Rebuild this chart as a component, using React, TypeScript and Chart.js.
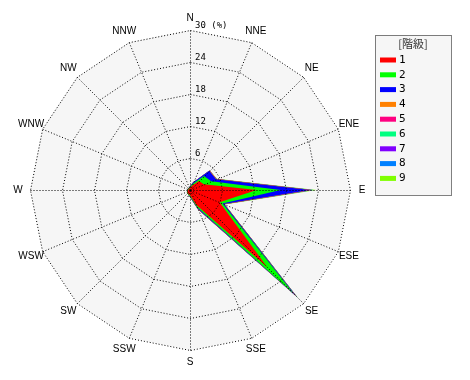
import { useEffect, useRef } from "react";
import { Chart, registerables } from "chart.js";

Chart.register(...registerables);

const directions = ["N", "NNE", "NE", "ENE", "E", "ESE", "SE", "SSE", "S", "SSW", "SW", "WSW", "W", "WNW", "NW", "NNW"];
const levelNames = ["1", "2", "3", "4", "5", "6", "7", "8", "9"];
const levelColors = ["#ff0000", "#00ff00", "#0000ff", "#ff8000", "#ff0080", "#00ff80", "#8000ff", "#0080ff", "#80ff00"];
const tickValues = [6, 12, 18, 24, 30];
const legendTitle = "[階級]";
const unitLabel = "(%)";

// frequency (%) per level, per direction (N, NNE, NE, ENE, E, ESE, SE, SSE, S, SSW, SW, WSW, W, WNW, NW, NNW)
const level1 = [0.4, 0.8, 2.4, 2.8, 12.5, 6.0, 20.5, 3.0, 1.0, 0.8, 0.7, 0.5, 0.4, 0.3, 0.3, 0.3];
const level2 = [0.2, 0.4, 1.3, 1.5, 4.5, 0.6, 7.0, 0.5, 0.2, 0.1, 0.1, 0.1, 0.1, 0.1, 0.1, 0.1];
const level3 = [0.1, 0.3, 1.4, 1.0, 5.5, 0.3, 0.5, 0.3, 0.1, 0.0, 0.0, 0.0, 0.0, 0.0, 0.0, 0.0];
const level4 = [0.0, 0.0, 0.1, 0.1, 0.2, 0.1, 0.2, 0.1, 0.0, 0.0, 0.0, 0.0, 0.0, 0.0, 0.0, 0.0];
const level5 = [0.0, 0.0, 0.0, 0.0, 0.1, 0.0, 0.1, 0.0, 0.0, 0.0, 0.0, 0.0, 0.0, 0.0, 0.0, 0.0];
const level6 = [0.0, 0.0, 0.0, 0.0, 0.1, 0.0, 0.1, 0.0, 0.0, 0.0, 0.0, 0.0, 0.0, 0.0, 0.0, 0.0];
const level7 = [0.0, 0.0, 0.0, 0.0, 0.1, 0.0, 0.0, 0.0, 0.0, 0.0, 0.0, 0.0, 0.0, 0.0, 0.0, 0.0];
const level8 = [0.0, 0.0, 0.0, 0.0, 0.2, 0.0, 0.1, 0.0, 0.0, 0.0, 0.0, 0.0, 0.0, 0.0, 0.0, 0.0];
const level9 = [0.0, 0.0, 0.0, 0.1, 0.5, 0.1, 0.1, 0.0, 0.0, 0.0, 0.0, 0.0, 0.0, 0.0, 0.0, 0.0];

const levels = [level1, level2, level3, level4, level5, level6, level7, level8, level9];

export default function App() {
  const ref = useRef<HTMLCanvasElement>(null);

  useEffect(() => {
    const canvas = ref.current;
    if (!canvas) return;

    const cumulative: number[][] = [];
    levels.forEach((lv, i) => {
      cumulative.push(lv.map((v, j) => v + (i > 0 ? cumulative[i - 1][j] : 0)));
    });

    const datasets = cumulative.map((data, i) => ({
      label: levelNames[i],
      data,
      backgroundColor: levelColors[i],
      borderColor: levelColors[i],
      borderWidth: 0,
      pointRadius: 0,
      fill: "origin",
    }));

    const decor = {
      id: "decor",
      beforeDatasetsDraw(chart: any) {
        const s = chart.scales.r;
        const ctx = chart.ctx;
        ctx.save();
        ctx.beginPath();
        directions.forEach((_, i) => {
          const p = s.getPointPosition(i, s.getDistanceFromCenterForValue(30));
          if (i === 0) ctx.moveTo(p.x, p.y);
          else ctx.lineTo(p.x, p.y);
        });
        ctx.closePath();
        ctx.fillStyle = "#f6f6f6";
        ctx.fill();
        ctx.restore();
      },
      afterDatasetsDraw(chart: any) {
        // crisp 1px dotted grid drawn next (scale layer z=1)
        chart.ctx.save();
        chart.ctx.translate(0.5, 0.5);
      },
      afterDraw(chart: any) {
        const s = chart.scales.r;
        const ctx = chart.ctx;
        ctx.restore();
        ctx.save();
        // direction labels
        ctx.fillStyle = "#000";
        ctx.font = "10px 'Liberation Sans', sans-serif";
        ctx.textAlign = "center";
        ctx.textBaseline = "middle";
        directions.forEach((d, i) => {
          const p = s.getPointPosition(i, s.drawingArea + 12);
          ctx.fillText(d, p.x, p.y);
        });
        // tick labels
        ctx.font = "9px 'DejaVu Sans Mono', monospace";
        ctx.textAlign = "left";
        ctx.textBaseline = "bottom";
        tickValues.forEach((t) => {
          const y = s.yCenter - s.getDistanceFromCenterForValue(t);
          const txt = t === 30 ? `${t} ${unitLabel}` : `${t}`;
          ctx.fillText(txt, s.xCenter + 5, y);
        });
        // legend
        const lx = 375, ly = 35, lw = 76, lh = 160;
        ctx.fillStyle = "#f6f6f6";
        ctx.fillRect(lx, ly, lw, lh);
        ctx.strokeStyle = "#000";
        ctx.setLineDash([1, 1]);
        ctx.lineWidth = 1;
        ctx.strokeRect(lx + 0.5, ly + 0.5, lw, lh);
        ctx.setLineDash([]);
        ctx.fillStyle = "#333";
        ctx.font = "11px 'Noto Sans CJK JP', sans-serif";
        ctx.textAlign = "center";
        ctx.textBaseline = "middle";
        ctx.fillText(legendTitle, lx + lw / 2, ly + 9);
        ctx.font = "11px 'DejaVu Sans Mono', monospace";
        ctx.textAlign = "left";
        levelNames.forEach((n, i) => {
          const y = ly + 25 + i * 14.8;
          ctx.fillStyle = levelColors[i];
          ctx.fillRect(lx + 5, y - 2.5, 16, 5);
          ctx.fillStyle = "#000";
          ctx.fillText(n, lx + 24, y);
        });
        ctx.restore();
      },
    };

    const chart = new Chart(canvas, {
      type: "radar",
      data: { labels: directions, datasets },
      options: {
        animation: false,
        responsive: false,
        layout: { padding: { left: 30, top: 30, right: 120, bottom: 30 } },
        plugins: { legend: { display: false }, tooltip: { enabled: false } },
        elements: { line: { tension: 0 } },
        scales: {
          r: {
            min: 0,
            max: 30,
            z: 1,
            ticks: { display: false, stepSize: 6 },
            pointLabels: { display: false },
            grid: { circular: false, color: "#000", lineWidth: 1, z: 1 },
            border: { dash: [1, 2] },
            angleLines: { display: true, color: "#000", lineWidth: 1, borderDash: [1, 2] },
          },
        },
      },
      plugins: [decor],
    });
    return () => chart.destroy();
  }, []);

  return (
    <div style={{ position: "absolute", left: 0, top: 0, width: 470, height: 380, background: "#fff" }}>
      <canvas ref={ref} width={470} height={380} />
    </div>
  );
}
